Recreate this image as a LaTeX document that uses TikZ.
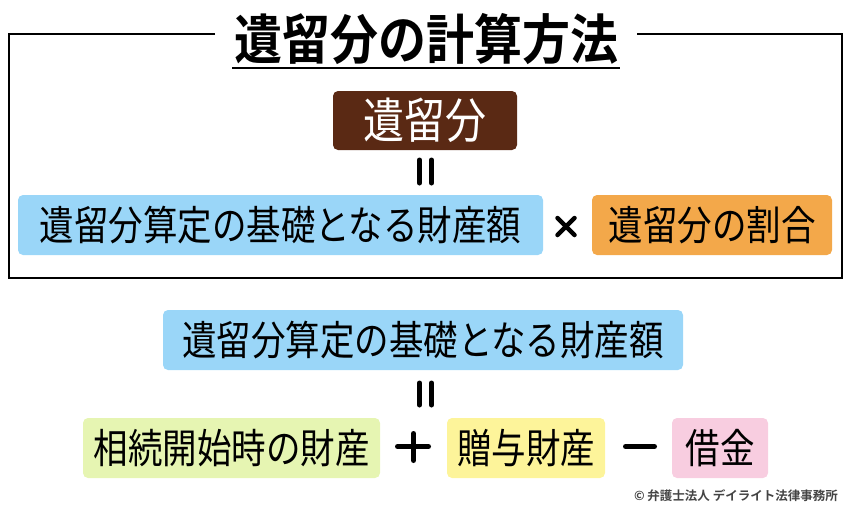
\documentclass[tikz,border=0pt]{standalone}
\usepackage{fontspec}
\newfontfamily\jp{Noto Sans CJK JP}
\newfontfamily\jpb{Noto Sans CJK JP Bold}
\definecolor{brownbox}{HTML}{5A2914}
\definecolor{bluebox}{HTML}{9AD6F8}
\definecolor{orangebox}{HTML}{F3A84A}
\definecolor{greenbox}{HTML}{E6F5B2}
\definecolor{yellowbox}{HTML}{FDF49A}
\definecolor{pinkbox}{HTML}{F8CDE0}
\definecolor{copyc}{HTML}{444444}
\newcommand{\tallt}[1]{\scalebox{1}[1.18]{#1}}
\tikzset{
  box/.style={rounded corners=5pt, inner sep=0pt, minimum height=60pt, font=\jp\fontsize{34.5}{36}\selectfont, text=black},
  bars/.style={line width=5pt, line cap=round},
  opline/.style={line width=5pt, line cap=round},
}
\begin{document}
\begin{tikzpicture}[x=1pt,y=-1pt]
\useasboundingbox (0,0) rectangle (850,515);
% frame
\coordinate (fl) at (9,34);
\coordinate (fr) at (842,34);
\draw[line width=1.5pt] (215,34) -- (fl) -- (9,278) -- (842,278) -- (fr) -- (637,34);
\node[font=\jpb\fontsize{48}{50}\selectfont, inner sep=0pt] (title) at (426,39) {\scalebox{1}[1.12]{遺留分の計算方法}};
\draw[line width=1.5pt] (232,68) -- (620,68);
% top formula
\node[box, fill=brownbox, text=white, minimum width=184pt, minimum height=59pt, font=\jp\fontsize{41}{43}\selectfont] (iryu) at (425,120.5) {\tallt{遺留分}};
\draw[bars] (419.5,160) -- (419.5,183);
\draw[bars] (431.5,160) -- (431.5,183);
\node[box, fill=bluebox, minimum width=525pt] (kiso1) at (280.5,225) {\tallt{遺留分算定の基礎となる財産額}};
\coordinate (tm) at (566,226.5);
\draw[opline, line width=4.5pt] ([shift={(-8.5,-8.5)}]tm) -- ([shift={(8.5,8.5)}]tm);
\draw[opline, line width=4.5pt] ([shift={(-8.5,8.5)}]tm) -- ([shift={(8.5,-8.5)}]tm);
\node[box, fill=orangebox, minimum width=240pt] (wari) at (712,225) {\tallt{遺留分の割合}};
% bottom formula
\node[box, fill=bluebox, minimum width=520pt] (kiso2) at (423,340) {\tallt{遺留分算定の基礎となる財産額}};
\draw[bars] (419.5,383) -- (419.5,405);
\draw[bars] (431.5,383) -- (431.5,405);
\node[box, fill=greenbox, minimum width=297pt] (sozoku) at (231.5,448) {\tallt{相続開始時の財産}};
\draw[opline] (397.5,446.5) -- (428.5,446.5);
\draw[opline] (413.5,433.5) -- (413.5,460.5);
\node[box, fill=yellowbox, minimum width=158pt] (zoyo) at (526,448) {\tallt{贈与財産}};
\draw[opline] (625.5,446.5) -- (654.5,446.5);
\node[box, fill=pinkbox, minimum width=96pt] (shakkin) at (720,448) {\tallt{借金}};
\node[anchor=east, inner sep=0pt, text=copyc, font=\jpb\fontsize{12.5}{14}\selectfont] (copy) at (838,496) {© 弁護士法人 デイライト法律事務所};
\end{tikzpicture}
\end{document}
